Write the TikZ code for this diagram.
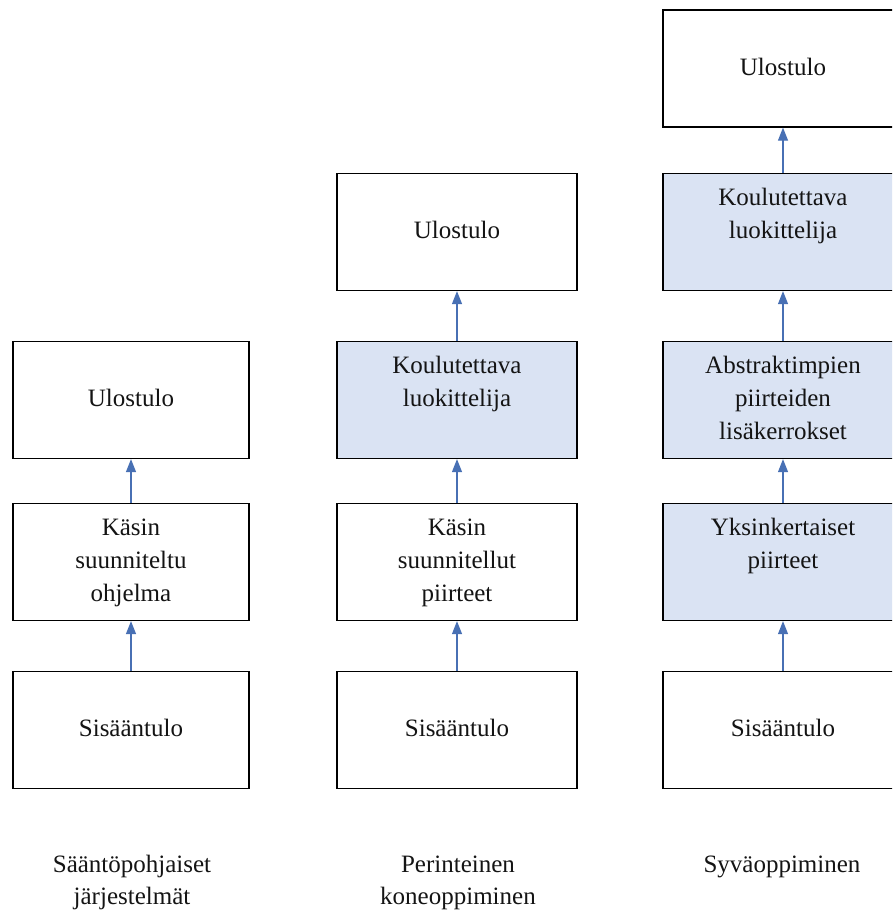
\documentclass[tikz,border=0pt]{standalone}
\usepackage{fontspec}
\setmainfont{Liberation Serif}
\usetikzlibrary{arrows.meta}
\definecolor{boxfill}{RGB}{218,227,243}
\definecolor{arrowblue}{RGB}{72,112,180}
\definecolor{textgray}{RGB}{20,20,20}
\begin{document}
\begin{tikzpicture}[x=1pt,y=-1pt,
  stage/.style={draw=black, line width=1.3pt, fill=white, minimum height=117pt,
    inner sep=0pt, align=center, text=textgray, font=\fontsize{25}{33}\selectfont},
  learned/.style={stage, fill=boxfill},
  narrow/.style={minimum width=236pt},
  wide/.style={minimum width=240pt},
  conn/.style={draw=arrowblue, line width=1.2pt, -{Triangle[length=13pt,width=10pt]}},
  caption/.style={anchor=north, align=center, text=textgray,
    font=\fontsize{25}{32}\selectfont}]
\clip (0,0) rectangle (892,913);

% Rule-based systems
\node[stage, narrow] (a1) at (131,730) {\strut Sisääntulo};
\node[stage, narrow] (a2) at (131,562) {\strut Käsin\\\strut suunniteltu\\\strut ohjelma};
\node[stage, narrow] (a3) at (131,400) {\strut Ulostulo};

% Classical machine learning
\node[stage, wide] (b1) at (457,730) {\strut Sisääntulo};
\node[stage, wide] (b2) at (457,562) {\strut Käsin\\\strut suunnitellut\\\strut piirteet};
\node[learned, wide] (b3) at (457,400) {\strut Koulutettava\\\strut luokittelija\\\strut};
\node[stage, wide] (b4) at (457,232) {\strut Ulostulo};

% Deep learning
\node[stage, wide] (c1) at (783,730) {\strut Sisääntulo};
\node[learned, wide] (c2) at (783,562) {\strut Yksinkertaiset\\\strut piirteet\\\strut};
\node[learned, wide] (c3) at (783,400) {\strut Abstraktimpien\\\strut piirteiden\\\strut lisäkerrokset};
\node[learned, wide] (c4) at (783,232) {\strut Koulutettava\\\strut luokittelija\\\strut};
\node[stage, wide] (c5) at (783,68.5) {\strut Ulostulo};

% Data flow
\draw[conn] (a1) -- (a2);
\draw[conn] (a2) -- (a3);
\draw[conn] (b1) -- (b2);
\draw[conn] (b2) -- (b3);
\draw[conn] (b3) -- (b4);
\draw[conn] (c1) -- (c2);
\draw[conn] (c2) -- (c3);
\draw[conn] (c3) -- (c4);
\draw[conn] (c4) -- (c5);

% Column captions
\node[caption] (ta) at (132,847) {\strut Sääntöpohjaiset\\\strut järjestelmät};
\node[caption] (tb) at (458,847) {\strut Perinteinen\\\strut koneoppiminen};
\node[caption] (tc) at (782,847) {\strut Syväoppiminen};
\end{tikzpicture}
\end{document}
